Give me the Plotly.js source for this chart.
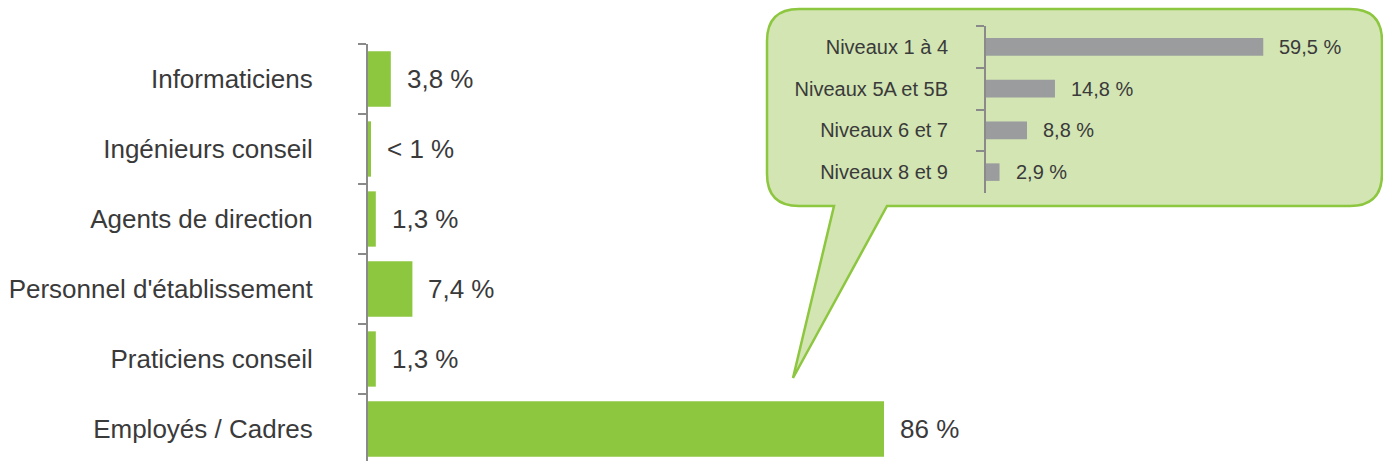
<!DOCTYPE html>
<html>
<head>
<meta charset="utf-8">
<script src="https://cdn.plot.ly/plotly-3.0.1.min.js"></script>
<style>html,body{margin:0;padding:0;background:#fff}#chart{width:1383px;height:461px}</style>
</head>
<body>
<div id="chart"></div>
<script>
// Main chart data
const categories = ["Informaticiens", "Ingénieurs conseil", "Agents de direction", "Personnel d'établissement", "Praticiens conseil", "Employés / Cadres"];
const values = [3.8, 0.5, 1.3, 7.4, 1.3, 86];
const valueLabels = ["3,8 %", "< 1 %", "1,3 %", "7,4 %", "1,3 %", "86 %"];

// Inset (Employés / Cadres breakdown)
const levels = ["Niveaux 1 à 4", "Niveaux 5A et 5B", "Niveaux 6 et 7", "Niveaux 8 et 9"];
const levelValues = [59.5, 14.8, 8.8, 2.9];
const levelLabels = ["59,5 %", "14,8 %", "8,8 %", "2,9 %"];

const W = 1383, H = 461;
const FONT = "Liberation Sans, Arial, sans-serif";
const TXT = "#3a3a3a";
const GREEN = "#8dc63f";
const AXIS = "#8a8a8a";

// pixel helpers for layout (paper coordinates)
const px = x => x / W;
const py = y => 1 - y / H;

// main geometry
const mainLeft = 368, mainTop = 44, mainBand = 70, mainPxPerUnit = 6.0;
const mainXMax = (W - mainLeft) / mainPxPerUnit;
const mainYBottom = -0.5 + (H - mainTop) / mainBand;

// inset geometry
const inLeft = 986, inTop = 26, inBottom = 193, inPxPerUnit = 4.66;
const inXMax = (W - inLeft) / inPxPerUnit;

const traces = [
  {
    type: "bar", orientation: "h",
    x: values, y: categories,
    xaxis: "x", yaxis: "y",
    marker: {color: GREEN},
    width: 0.79,
    hoverinfo: "skip"
  },
  {
    type: "bar", orientation: "h",
    x: levelValues, y: levels,
    xaxis: "x2", yaxis: "y2",
    marker: {color: "#9a9c9e"},
    width: 0.42,
    hoverinfo: "skip"
  }
];

const annotations = [];
categories.forEach((c, i) => {
  annotations.push({
    x: values[i], y: c, xref: "x", yref: "y",
    text: valueLabels[i], showarrow: false,
    xanchor: "left", yanchor: "middle", xshift: 14,
    font: {family: FONT, size: 26, color: TXT}
  });
});
levels.forEach((c, i) => {
  annotations.push({
    x: levelValues[i], y: c, xref: "x2", yref: "y2",
    text: levelLabels[i], showarrow: false,
    xanchor: "left", yanchor: "middle", xshift: 14,
    font: {family: FONT, size: 20, color: TXT}
  });
});

// speech bubble
const L = 767, R = 1382, T = 9, B = 206, r = 32;
const tailL = 834, tailR = 887, tipX = 793, tipY = 378;
const P = (x, y) => px(x) + "," + py(y);
const bubblePath = [
  "M" + P(L + r, T),
  "L" + P(R - r, T),
  "Q" + P(R, T) + " " + P(R, T + r),
  "L" + P(R, B - r),
  "Q" + P(R, B) + " " + P(R - r, B),
  "L" + P(tailR, B),
  "L" + P(tipX, tipY),
  "L" + P(tailL, B),
  "L" + P(L + r, B),
  "Q" + P(L, B) + " " + P(L, B - r),
  "L" + P(L, T + r),
  "Q" + P(L, T) + " " + P(L + r, T),
  "Z"
].join(" ");

const layout = {
  width: W, height: H,
  margin: {l: 0, r: 0, t: 0, b: 0, pad: 0},
  paper_bgcolor: "#ffffff",
  plot_bgcolor: "rgba(0,0,0,0)",
  showlegend: false,
  font: {family: FONT, color: TXT},
  xaxis: {
    domain: [px(mainLeft), 1], range: [0, mainXMax],
    visible: false, fixedrange: true
  },
  yaxis: {
    domain: [0, py(mainTop)], range: [mainYBottom, -0.5],
    type: "category", autorange: false,
    showline: true, linecolor: AXIS, linewidth: 2,
    ticks: "outside", tickson: "boundaries", ticklen: 8, tickwidth: 2, tickcolor: AXIS,
    ticklabelstandoff: 48,
    tickfont: {family: FONT, size: 26, color: TXT},
    showgrid: false, zeroline: false, fixedrange: true
  },
  xaxis2: {
    domain: [px(inLeft), 1], range: [0, inXMax],
    anchor: "y2", visible: false, fixedrange: true
  },
  yaxis2: {
    domain: [py(inBottom), py(inTop)], range: [3.5, -0.5],
    anchor: "x2", type: "category", autorange: false,
    showline: true, linecolor: AXIS, linewidth: 2,
    ticks: "outside", tickson: "boundaries", ticklen: 8, tickwidth: 2, tickcolor: AXIS,
    ticklabelstandoff: 32,
    tickfont: {family: FONT, size: 20, color: TXT},
    showgrid: false, zeroline: false, fixedrange: true
  },
  shapes: [{
    type: "path", xref: "paper", yref: "paper", layer: "below",
    path: bubblePath,
    fillcolor: "#d2e5b3",
    line: {color: GREEN, width: 2.5}
  }],
  annotations: annotations
};

Plotly.newPlot("chart", traces, layout, {displayModeBar: false, staticPlot: true});
</script>
</body>
</html>
